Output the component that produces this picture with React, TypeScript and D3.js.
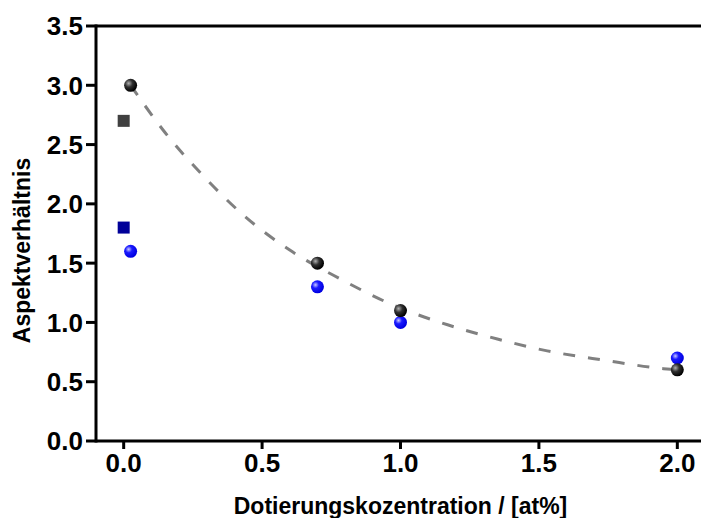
import React from "react";
import * as d3 from "d3";

const xTicks = [0.0, 0.5, 1.0, 1.5, 2.0];
const yTicks = [0.0, 0.5, 1.0, 1.5, 2.0, 2.5, 3.0, 3.5];

const blackX = [0.025, 0.7, 1.0, 2.0];
const blackY = [3.0, 1.5, 1.1, 0.6];
const blueX = [0.025, 0.7, 1.0, 2.0];
const blueY = [1.6, 1.3, 1.0, 0.7];
const graySquare = [[0.0, 2.7]];
const navySquare = [[0.0, 1.8]];

// dashed fit curve
const fitX = [0.025, 0.15, 0.29, 0.43, 0.6, 0.78, 0.97, 1.17, 1.35, 1.53, 1.74, 1.95, 2.0];
const fitY = [3.0, 2.6, 2.23, 1.91, 1.61, 1.37, 1.15, 0.98, 0.86, 0.76, 0.68, 0.61, 0.6];

const W = 701;
const H = 518;
const m = { left: 96, right: 705, top: 26, bottom: 441 };

export default function App() {
  const x = d3.scaleLinear().domain([-0.1, 2.1]).range([m.left, m.right]);
  const y = d3.scaleLinear().domain([0, 3.5]).range([m.bottom, m.top]);
  const font = "'Liberation Sans', Arial, sans-serif";
  const line = d3
    .line<number>()
    .x((_, i) => x(fitX[i]))
    .y((d) => y(d))
    .curve(d3.curveMonotoneX);

  return (
    <svg
      width={W}
      height={H}
      style={{ position: "absolute", left: 0, top: 0, background: "#fff" }}
    >
      <defs>
        <radialGradient id="gBlack" cx="0.35" cy="0.35" r="0.65">
          <stop offset="0" stopColor="#b0b0b0" />
          <stop offset="0.45" stopColor="#303030" />
          <stop offset="1" stopColor="#000" />
        </radialGradient>
        <radialGradient id="gBlue" cx="0.35" cy="0.35" r="0.65">
          <stop offset="0" stopColor="#c8c8ff" />
          <stop offset="0.4" stopColor="#1a1aff" />
          <stop offset="1" stopColor="#0000e0" />
        </radialGradient>
      </defs>

      {/* fit curve */}
      <path
        d={line(fitY) || ""}
        fill="none"
        stroke="#808080"
        strokeWidth={3}
        strokeDasharray="12 13"
      />

      {/* squares */}
      {graySquare.map((d, i) => (
        <rect key={"gs" + i} x={x(d[0]) - 6} y={y(d[1]) - 6} width={12} height={12} fill="#404040" />
      ))}
      {navySquare.map((d, i) => (
        <rect key={"ns" + i} x={x(d[0]) - 6} y={y(d[1]) - 6} width={12} height={12} fill="#000099" />
      ))}

      {/* blue circles */}
      {blueY.map((v, i) => (
        <circle key={"b" + i} cx={x(blueX[i])} cy={y(v)} r={6.5} fill="url(#gBlue)" />
      ))}
      {/* black circles */}
      {blackY.map((v, i) => (
        <circle key={"k" + i} cx={x(blackX[i])} cy={y(v)} r={6.5} fill="url(#gBlack)" />
      ))}

      {/* frame / axes */}
      <line x1={m.left} x2={W} y1={m.top} y2={m.top} stroke="#000" strokeWidth={3} />
      <line x1={m.left} x2={W} y1={m.bottom} y2={m.bottom} stroke="#000" strokeWidth={3} />
      <line x1={m.left} x2={m.left} y1={m.top - 1.5} y2={m.bottom + 1.5} stroke="#000" strokeWidth={3} />

      {/* y ticks */}
      {yTicks.map((t) => (
        <g key={"yt" + t}>
          <line x1={m.left - 10} x2={m.left} y1={y(t)} y2={y(t)} stroke="#000" strokeWidth={3} />
          <text
            x={m.left - 13}
            y={y(t)}
            dy="0.36em"
            textAnchor="end"
            fontFamily={font}
            fontWeight="bold"
            fontSize={26}
            fill="#000"
          >
            {t.toFixed(1)}
          </text>
        </g>
      ))}

      {/* x ticks */}
      {xTicks.map((t) => (
        <g key={"xt" + t}>
          <line x1={x(t)} x2={x(t)} y1={m.bottom} y2={m.bottom + 8} stroke="#000" strokeWidth={3} />
          <text
            x={x(t)}
            y={472}
            textAnchor="middle"
            fontFamily={font}
            fontWeight="bold"
            fontSize={26}
            fill="#000"
          >
            {t.toFixed(1)}
          </text>
        </g>
      ))}

      {/* axis titles */}
      <text
        x={(m.left + m.right) / 2}
        y={514}
        textAnchor="middle"
        fontFamily={font}
        fontWeight="bold"
        fontSize={23}
        fill="#000"
      >
        Dotierungskozentration / [at%]
      </text>
      <text
        transform={`translate(30, ${(m.top + m.bottom) / 2 + 17}) rotate(-90)`}
        textAnchor="middle"
        fontFamily={font}
        fontWeight="bold"
        fontSize={23}
        fill="#000"
      >
        Aspektverhältnis
      </text>
    </svg>
  );
}
